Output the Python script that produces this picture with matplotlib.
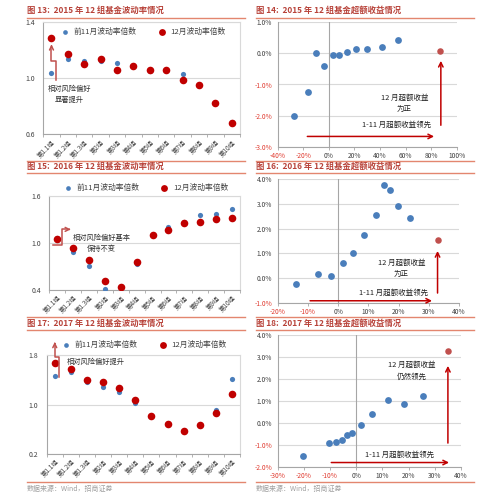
import matplotlib
matplotlib.use("Agg")
import matplotlib.pyplot as plt
from matplotlib.lines import Line2D
from matplotlib.ticker import FuncFormatter, FixedLocator

plt.rcParams['font.family'] = ['Noto Sans CJK SC', 'DejaVu Sans']
plt.rcParams['axes.unicode_minus'] = False

W, H = 501, 500

# ---- data ----
groups = ['第1.1组', '第1.2组', '第1.3组', '第2组', '第3组', '第4组',
          '第5组', '第6组', '第7组', '第8组', '第9组', '第10组']

vol15_prev = [1.04, 1.14, 1.12, 1.12, 1.11, 1.09, 1.05, 1.06, 1.03, 0.95, 0.82, 0.69]
vol15_dec = [1.29, 1.17, 1.10, 1.14, 1.06, 1.09, 1.06, 1.06, 0.99, 0.95, 0.82, 0.68]
vol16_prev = [1.07, 0.89, 0.70, 0.41, 0.44, 0.73, 1.10, 1.21, 1.27, 1.36, 1.37, 1.43]
vol16_dec = [1.05, 0.93, 0.78, 0.52, 0.44, 0.76, 1.10, 1.17, 1.26, 1.27, 1.31, 1.32]
vol17_prev = [1.47, 1.53, 1.37, 1.29, 1.21, 1.02, 0.81, 0.68, 0.57, 0.67, 0.91, 1.41]
vol17_dec = [1.68, 1.57, 1.40, 1.36, 1.27, 1.08, 0.81, 0.68, 0.57, 0.67, 0.87, 1.18]

# excess return (%): x = Jan-Nov, y = Dec
ex15_x = [-27.4, -16.4, -10.4, -3.9, 3.1, 8.3, 14.1, 21.1, 29.5, 41.4, 54.2]
ex15_y = [-2.00, -1.24, 0.00, -0.42, -0.05, -0.06, 0.06, 0.15, 0.15, 0.21, 0.42]
ex15_top = (86.8, 0.08)
ex16_x = [-13.9, -6.6, -2.4, 1.5, 5.0, 8.7, 12.5, 15.3, 17.2, 19.9, 23.8]
ex16_y = [-0.23, 0.16, 0.08, 0.62, 1.01, 1.76, 2.55, 3.74, 3.56, 2.92, 2.42]
ex16_top = (33.1, 1.55)
ex17_x = [-20.5, -10.6, -7.6, -5.6, -3.7, -1.5, 1.7, 6.0, 12.0, 18.4, 25.3]
ex17_y = [-1.49, -0.94, -0.86, -0.77, -0.56, -0.47, -0.11, 0.41, 1.03, 0.86, 1.24]
ex17_top = (35.2, 3.25)

BLUE = '#4a7ebb'
RED = '#c00000'
RED2 = '#c0504d'
TITLE_C = '#b8433a'
LINE_C = '#e3866f'
GRID_C = '#d9d9d9'
AX_C = '#a6a6a6'
TXT = '#404040'

fig = plt.figure(figsize=(W / 100, H / 100), dpi=100)
fig.patch.set_facecolor('white')


def rect(x0, y0, x1, y1):
    return [x0 / W, 1 - y1 / H, (x1 - x0) / W, (y1 - y0) / H]


def hline(x0, x1, y, color=LINE_C, lw=1.0):
    fig.add_artist(Line2D([x0 / W, x1 / W], [1 - y / H, 1 - y / H],
                          color=color, lw=lw, transform=fig.transFigure))


def header(x, y, text, x1, yl):
    fig.text(x / W, 1 - y / H, text, fontsize=6.0, color=TITLE_C,
             fontweight='bold', va='center', ha='left')
    hline(x, x1, yl)


# ---- section headers / rules ----
header(27, 10.5, '图 13:  2015 年 12 组基金波动率情况', 245, 17.5)
header(256, 10.5, '图 14:  2015 年 12 组基金超额收益情况', 474, 17.5)
hline(27, 245, 161)
hline(256, 474, 161)
header(27, 166.5, '图 15:  2016 年 12 组基金波动率情况', 245, 172.5)
header(256, 166.5, '图 16:  2016 年 12 组基金超额收益情况', 474, 172.5)
hline(27, 245, 317)
hline(256, 474, 317)
header(27, 323, '图 17:  2017 年 12 组基金波动率情况', 245, 329.5)
header(256, 323, '图 18:  2017 年 12 组基金超额收益情况', 474, 329.5)
hline(27, 245, 482)
hline(256, 474, 482)
fig.text(27 / W, 1 - 488.5 / H, '数据来源：Wind，招商证券', fontsize=5, color='#a0a0a0', va='center')
fig.text(256 / W, 1 - 488.5 / H, '数据来源：Wind，招商证券', fontsize=5, color='#a0a0a0', va='center')


def vol_panel(r, prev, dec, ylim, yticks, leg_xy):
    ax = fig.add_axes(rect(*r))
    x = list(range(len(groups)))
    ax.scatter(x, prev, s=14, color=BLUE, zorder=3, label='前11月波动率倍数', linewidths=0)
    ax.scatter(x, dec, s=30, color=RED, zorder=4, label='12月波动率倍数', linewidths=0)
    ax.set_xlim(-0.5, len(groups) - 0.5)
    ax.set_ylim(*ylim)
    ax.set_yticks(yticks)
    ax.set_yticklabels([f'{t:.1f}' for t in yticks])
    ax.yaxis.grid(True, color=GRID_C, lw=0.8)
    ax.set_axisbelow(True)
    ax.xaxis.set_major_locator(FixedLocator(x))
    ax.set_xticklabels(groups, rotation=45, ha='right', rotation_mode='anchor', fontsize=4.6, color=TXT)
    ax.xaxis.set_minor_locator(FixedLocator([i - 0.5 for i in range(len(groups) + 1)]))
    ax.tick_params(axis='x', which='major', length=0, pad=3)
    ax.tick_params(axis='x', which='minor', length=2.5, color=AX_C, width=0.6)
    ax.tick_params(axis='y', length=0, labelsize=5, colors=TXT, pad=6)
    for s in ax.spines.values():
        s.set_color(GRID_C)
        s.set_linewidth(0.8)
    ax.spines['left'].set_color(AX_C)
    ax.spines['bottom'].set_color(AX_C)
    ax.legend(loc='center', bbox_to_anchor=leg_xy, ncol=2, frameon=False, fontsize=5.6,
              handletextpad=0.1, columnspacing=2.2, markerscale=0.9, borderaxespad=0,
              labelcolor=TXT)
    return ax


# ---- figure 13 ----
ax = vol_panel((43.3, 22.3, 240, 134.3), vol15_prev, vol15_dec, (0.6, 1.4), [0.6, 1.0, 1.4], (0.5, 0.913))
ax.plot([0.26, 0.26, 0.0, 0.0], [0.985, 1.124, 1.124, 1.21], color=RED2, lw=1.1, zorder=5)
ax.annotate('', xy=(0.0, 1.262), xytext=(0.0, 1.20),
            arrowprops=dict(arrowstyle='->', color=RED2, lw=1.1, mutation_scale=7), zorder=5)
ax.text(1.1, 0.888, '相对风险偏好\n显著提升', fontsize=5.2, color='#303030', ha='center', va='center',
        linespacing=1.5)

# ---- figure 15 ----
ax = vol_panel((49.3, 196, 240, 290), vol16_prev, vol16_dec, (0.4, 1.6), [0.4, 1.0, 1.6], (0.497, 1.088))
ax.plot([-0.27, 0.31, 0.31, 0.6], [0.97, 0.97, 1.174, 1.174], color=RED2, lw=1.1, zorder=5)
ax.annotate('', xy=(0.85, 1.174), xytext=(0.55, 1.174),
            arrowprops=dict(arrowstyle='->', color=RED2, lw=1.1, mutation_scale=7), zorder=5)
ax.text(2.8, 0.99, '相对风险偏好基本\n保持不变', fontsize=5.2, color='#303030', ha='center', va='center',
        linespacing=1.5)

# ---- figure 17 ----
ax = vol_panel((46.7, 355.3, 240, 454), vol17_prev, vol17_dec, (0.2, 1.8), [0.2, 1.0, 1.8], (0.496, 1.104))
ax.plot([0.27, 0.27, 0.0, 0.0], [1.454, 1.768, 1.768, 1.95], color=RED2, lw=1.1, zorder=5, clip_on=False)
ax.annotate('', xy=(0.0, 2.06), xytext=(0.0, 1.94), annotation_clip=False,
            arrowprops=dict(arrowstyle='->', color=RED2, lw=1.1, mutation_scale=7), zorder=5)
ax.text(0.73, 1.69, '相对风险偏好提升', fontsize=5.2, color='#303030', ha='left', va='center')


def ex_panel(r, xs, ys, top, xlim, ylim, xstep, ystep):
    ax = fig.add_axes(rect(*r))
    ax.scatter(xs, ys, s=24, color=BLUE, zorder=3, linewidths=0)
    ax.scatter([top[0]], [top[1]], s=22, color=RED2, zorder=3, linewidths=0)
    ax.set_xlim(*xlim)
    ax.set_ylim(*ylim)
    xt = list(range(xlim[0], xlim[1] + 1, xstep))
    yt = [ylim[0] + i * ystep for i in range(int(round((ylim[1] - ylim[0]) / ystep)) + 1)]
    ax.set_xticks(xt)
    ax.set_yticks(yt)
    ax.xaxis.set_major_formatter(FuncFormatter(lambda v, p: f'{v:.0f}%'))
    ax.yaxis.set_major_formatter(FuncFormatter(lambda v, p: f'{v:.1f}%'))
    ax.yaxis.grid(True, color=GRID_C, lw=0.8)
    ax.set_axisbelow(True)
    ax.axvline(0, color=AX_C, lw=0.8, zorder=1)
    ax.tick_params(labelsize=4.8, colors=TXT, length=0, pad=4)
    ax.tick_params(axis='x', length=2.0, color=AX_C, width=0.6, direction='out', pad=1.5)
    for lab, v in zip(ax.get_xticklabels(), xt):
        if v < 0:
            lab.set_color('#e03c31')
    for lab, v in zip(ax.get_yticklabels(), yt):
        if v < -1e-9:
            lab.set_color('#e03c31')
    for k in ('top', 'right'):
        ax.spines[k].set_visible(False)
    ax.spines['left'].set_color(AX_C)
    ax.spines['bottom'].set_color(AX_C)
    ax.spines['left'].set_linewidth(0.8)
    ax.spines['bottom'].set_linewidth(0.8)
    return ax


def arrow(ax, xy, xytext):
    ax.annotate('', xy=xy, xytext=xytext,
                arrowprops=dict(arrowstyle='->', color=RED, lw=1.1, mutation_scale=8))


# ---- figure 14 ----
ax = ex_panel((277.7, 22.3, 456.7, 146.7), ex15_x, ex15_y, ex15_top, (-40, 100), (-3.0, 1.0), 20, 1.0)
arrow(ax, (84.5, -2.67), (-19, -2.67))
arrow(ax, (87.6, -0.15), (87.6, -2.4))
ax.text(59, -1.6, '12 月超额收益\n为正', fontsize=5.4, color='#202020', ha='center', va='center', linespacing=1.6)
ax.text(53, -2.29, '1-11 月超额收益领先', fontsize=5.4, color='#202020', ha='center', va='center')

# ---- figure 16 ----
ax = ex_panel((277.7, 179, 459, 303), ex16_x, ex16_y, ex16_top, (-20, 40), (-1.0, 4.0), 10, 1.0)
arrow(ax, (32.0, -0.91), (-10.2, -0.91))
arrow(ax, (32.9, 1.21), (32.9, -0.71))
ax.text(21, 0.4, '12 月超额收益\n为正', fontsize=5.4, color='#202020', ha='center', va='center', linespacing=1.6)
ax.text(18.3, -0.58, '1-11 月超额收益领先', fontsize=5.4, color='#202020', ha='center', va='center')

# ---- figure 18 ----
ax = ex_panel((277.7, 335, 461, 466.7), ex17_x, ex17_y, ex17_top, (-30, 40), (-2.0, 4.0), 10, 1.0)
arrow(ax, (36.5, -1.81), (-10.6, -1.81))
arrow(ax, (35.0, 2.72), (35.0, -1.05))
ax.text(21.2, 2.38, '12 月超额收益\n仍然领先', fontsize=5.4, color='#202020', ha='center', va='center', linespacing=1.6)
ax.text(16.7, -1.46, '1-11 月超额收益领先', fontsize=5.4, color='#202020', ha='center', va='center')

fig.savefig('out.png', dpi=100, facecolor='white')
